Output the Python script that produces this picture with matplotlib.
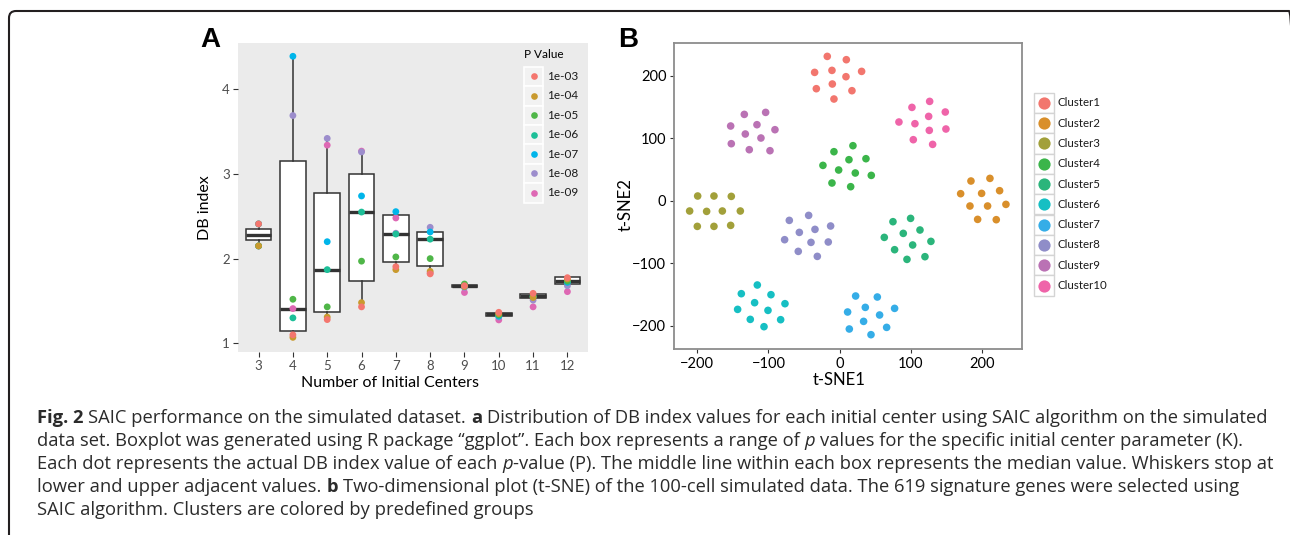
import matplotlib
matplotlib.use("Agg")
import matplotlib.pyplot as plt
from matplotlib.patches import Rectangle, FancyBboxPatch

# ---- panel A data: DB index by number of initial centers ----
centers = [3, 4, 5, 6, 7, 8, 9, 10, 11, 12]
p_labels = ["1e-03", "1e-04", "1e-05", "1e-06", "1e-07", "1e-08", "1e-09"]
p_colors = ["#F4766E", "#C99A2E", "#4FB648", "#1DBF98", "#00B5EA", "#9C8DCC", "#DE68B4"]

db_1e03 = [2.41, 1.10, 1.28, 1.43, 1.905, 1.82, 1.68, 1.366, 1.59, 1.775]
db_1e04 = [2.15, 1.07, 1.31, 1.48, 1.87, 1.85, 1.67, 1.35, 1.54, 1.76]
db_1e05 = [2.15, 1.52, 1.43, 1.97, 2.02, 2.00, 1.70, 1.34, 1.56, 1.74]
db_1e06 = [2.41, 1.30, 1.87, 2.55, 2.29, 2.23, 1.69, 1.33, 1.55, 1.73]
db_1e07 = [2.15, 4.39, 2.20, 2.74, 2.555, 2.315, 1.67, 1.32, 1.55, 1.72]
db_1e08 = [2.41, 3.69, 3.42, 3.26, 2.30, 2.37, 1.66, 1.31, 1.51, 1.68]
db_1e09 = [2.15, 1.41, 3.34, 3.27, 2.48, 1.83, 1.60, 1.276, 1.43, 1.61]
db_series = [db_1e03, db_1e04, db_1e05, db_1e06, db_1e07, db_1e08, db_1e09]

# box statistics
box_q1 = [2.22, 1.146, 1.366, 1.73, 1.96, 1.917, 1.665, 1.325, 1.535, 1.70]
box_med = [2.28, 1.41, 1.866, 2.55, 2.29, 2.23, 1.677, 1.34, 1.555, 1.735]
box_q3 = [2.35, 3.15, 2.77, 3.00, 2.52, 2.31, 1.69, 1.355, 1.58, 1.78]
box_lo = [2.15, 1.07, 1.28, 1.43, 1.87, 1.82, 1.665, 1.325, 1.535, 1.70]
box_hi = [2.41, 4.39, 3.42, 3.26, 2.555, 2.37, 1.69, 1.355, 1.58, 1.78]

# ---- panel B data: t-SNE coordinates per cluster ----
clusters = ["Cluster1", "Cluster2", "Cluster3", "Cluster4", "Cluster5",
            "Cluster6", "Cluster7", "Cluster8", "Cluster9", "Cluster10"]
cluster_colors = ["#F2766E", "#D98F2B", "#A2A03A", "#3BB54A", "#2BB57B",
                  "#16BFC3", "#35ADE7", "#8F8DC8", "#BA72B4", "#EF64A9"]

c1_x = [-17.2, 9.6, -35.0, -10.6, 9.1, 31.1, -32.6, -10.1, 17.5, -7.8]
c1_y = [230.9, 225.6, 205.3, 208.5, 198.4, 206.9, 179.2, 186.7, 176.0, 162.7]
c2_x = [184.9, 211.6, 170.4, 199.9, 225.2, 183.5, 208.3, 234.1, 194.3, 220.5]
c2_y = [31.5, 35.7, 11.2, 11.7, 16.0, -8.5, -8.5, -5.9, -29.9, -30.4]
c3_x = [-199.5, -176.6, -152.2, -210.8, -186.9, -164.8, -139.5, -200.0, -176.6, -153.1]
c3_y = [7.5, 7.5, 6.9, -16.5, -17.1, -16.5, -16.5, -41.1, -41.1, -39.5]
c4_x = [-7.8, 18.9, -23.3, 13.3, 37.2, -1.2, 22.2, 44.7, -10.6, 15.7]
c4_y = [78.4, 88.0, 56.5, 65.6, 67.2, 49.1, 44.3, 40.5, 28.3, 22.4]
c5_x = [75.2, 100.0, 89.7, 113.2, 63.0, 102.9, 128.6, 77.5, 120.2, 94.9]
c5_y = [-33.6, -28.3, -52.3, -46.9, -58.7, -70.9, -65.1, -78.4, -89.6, -93.9]
c6_x = [-115.6, -138.1, -96.4, -119.4, -76.7, -143.3, -100.6, -125.5, -82.8, -106.2]
c6_y = [-134.9, -148.8, -150.4, -163.2, -164.8, -173.9, -175.5, -189.9, -190.4, -201.6]
c7_x = [22.7, 53.2, 36.3, 77.5, 11.4, 56.4, 33.9, 13.8, 66.3, 44.3]
c7_y = [-152.5, -154.1, -170.7, -172.3, -178.1, -182.9, -193.1, -205.3, -202.7, -214.4]
c8_x = [-43.4, -70.6, -12.5, -56.5, -34.5, -77.2, -40.1, -15.8, -58.0, -31.2]
c8_y = [-23.5, -31.5, -40.5, -50.7, -45.9, -62.4, -66.7, -66.1, -81.1, -89.1]
c9_x = [-133.9, -103.9, -153.1, -116.1, -90.8, -132.5, -110.5, -152.2, -126.9, -97.8]
c9_y = [138.1, 141.3, 119.5, 121.6, 113.6, 106.7, 100.3, 91.2, 81.6, 80.0]
c10_x = [126.8, 101.9, 148.8, 125.4, 83.6, 106.1, 149.7, 126.3, 103.8, 131.0]
c10_y = [158.9, 149.3, 141.9, 134.9, 125.9, 123.2, 114.7, 112.5, 97.6, 90.1]
tsne_x = [c1_x, c2_x, c3_x, c4_x, c5_x, c6_x, c7_x, c8_x, c9_x, c10_x]
tsne_y = [c1_y, c2_y, c3_y, c4_y, c5_y, c6_y, c7_y, c8_y, c9_y, c10_y]

# ---- caption (segments: text, style) ----
caption_lines = [
    [("Fig. 2", "b"), (" SAIC performance on the simulated dataset. ", "n"), ("a", "b"),
     (" Distribution of DB index values for each initial center using SAIC algorithm on the simulated", "n")],
    [("data set. Boxplot was generated using R package \u201cggplot\u201d. Each box represents a range of ", "n"),
     ("p", "i"), (" values for the specific initial center parameter (K).", "n")],
    [("Each dot represents the actual DB index value of each ", "n"), ("p", "i"),
     ("-value (P). The middle line within each box represents the median value. Whiskers stop at", "n")],
    [("lower and upper adjacent values. ", "n"), ("b", "b"),
     (" Two-dimensional plot (t-SNE) of the 100-cell simulated data. The 619 signature genes were selected using", "n")],
    [("SAIC algorithm. Clusters are colored by predefined groups", "n")],
]

W, H = 1290, 535
PANEL_FONT = ["Lato", "DejaVu Sans"]
CAP_FONT = ["Open Sans", "DejaVu Sans"]


def fig_rect(x0, y0, x1, y1):
    # pixel box (top-left origin) -> figure fraction rect
    return [x0 / W, 1 - y1 / H, (x1 - x0) / W, (y1 - y0) / H]


def fx(x):
    return x / W


def fy(y):
    return 1 - y / H


fig = plt.figure(figsize=(W / 100, H / 100), dpi=100)
fig.patch.set_facecolor("white")

# frame around the figure (right and bottom sides run off the picture)
frame = FancyBboxPatch((fx(9), fy(H + 30)), (1296 - 9) / W, (H + 30 - 11) / H,
                       boxstyle="round,pad=0,rounding_size=%f" % (7 / W),
                       mutation_aspect=W / H, transform=fig.transFigure,
                       fill=False, ec="#231F20", lw=1.5, clip_on=False)
fig.patches.append(frame)

# ================= panel A =================
axA = fig.add_axes(fig_rect(238, 43, 588, 352))
axA.set_facecolor("#EBEBEB")
for s in axA.spines.values():
    s.set_visible(False)

stats = []
for i in range(len(centers)):
    stats.append(dict(q1=box_q1[i], med=box_med[i], q3=box_q3[i],
                      whislo=box_lo[i], whishi=box_hi[i], fliers=[]))
axA.bxp(stats, positions=centers, widths=0.75, patch_artist=True, showcaps=False,
        showfliers=False,
        boxprops=dict(facecolor="white", edgecolor="#333333", linewidth=1.1),
        medianprops=dict(color="#333333", linewidth=2.4, solid_capstyle="butt"),
        whiskerprops=dict(color="#333333", linewidth=1.1))

for vals, col in reversed(list(zip(db_series, p_colors))):
    axA.scatter(centers, vals, s=24, color=col, edgecolors="none", zorder=5)

axA.set_xlim(2.4, 12.6)
axA.set_ylim(0.897, 4.547)
axA.set_xticks(centers)
axA.set_xticklabels([str(c) for c in centers])
axA.set_yticks([1, 2, 3, 4])
axA.tick_params(length=3.5, width=0.8, color="#333333", labelcolor="#4D4D4D",
                labelsize=9.5, pad=2.5)
for lab in axA.get_xticklabels() + axA.get_yticklabels():
    lab.set_family(PANEL_FONT)
axA.set_xlabel("Number of Initial Centers", family=PANEL_FONT, fontsize=11.5)
axA.set_ylabel("DB index", family=PANEL_FONT, fontsize=11.5)
axA.xaxis.set_label_coords((390 - 238) / 350, (352 - 383) / 309)
axA.xaxis.label.set_va("center")
axA.yaxis.set_label_coords((205 - 238) / 350, (352 - 208) / 309)
axA.yaxis.label.set_va("center")

# legend for p values
fig.text(fx(524), fy(54), "P Value", family=PANEL_FONT, fontsize=8.5, va="center", ha="left")
for i, (lab, col) in enumerate(zip(p_labels, p_colors)):
    top = 66.7 + i * 19.4
    fig.add_artist(Rectangle((fx(524), fy(top + 19.4)), 19.4 / W, 19.4 / H,
                             transform=fig.transFigure, fc="#F2F2F2", ec="white", lw=1.2))
    fig.add_artist(plt.Line2D([fx(534)], [fy(top + 9.7)], transform=fig.transFigure,
                              marker="o", ms=4.8, color=col, mec="none", ls="none"))
    fig.text(fx(547), fy(top + 9.7), lab, family=PANEL_FONT, fontsize=8.5, va="center",
             ha="left", color="#1A1A1A")

fig.text(fx(200), fy(40), "A", family=["Liberation Sans", "DejaVu Sans"], fontsize=20,
         fontweight="bold", va="center", ha="left")

# ================= panel B =================
axB = fig.add_axes(fig_rect(674, 42.7, 1022, 349))
for s in axB.spines.values():
    s.set_color("#8C8C8C")
    s.set_linewidth(1.3)
for xs, ys, col in zip(tsne_x, tsne_y, cluster_colors):
    axB.scatter(xs, ys, s=30, color=col, edgecolors="none")
axB.set_xlim(-232.8, 256.7)
axB.set_ylim(-237.3, 252.8)
axB.set_xticks([-200, -100, 0, 100, 200])
axB.set_yticks([-200, -100, 0, 100, 200])
axB.tick_params(length=3, width=0.8, color="#333333", labelcolor="black",
                labelsize=10.5, pad=2.5)
for lab in axB.get_xticklabels() + axB.get_yticklabels():
    lab.set_family(PANEL_FONT)
axB.set_xlabel("t-SNE1", family=PANEL_FONT, fontsize=12)
axB.set_ylabel("t-SNE2", family=PANEL_FONT, fontsize=12)
axB.xaxis.set_label_coords((839.5 - 674) / 348, (349 - 380) / 306.3)
axB.xaxis.label.set_va("center")
axB.yaxis.set_label_coords((626 - 674) / 348, (349 - 205) / 306.3)
axB.yaxis.label.set_va("center")

for i, (lab, col) in enumerate(zip(clusters, cluster_colors)):
    top = 92.7 + i * 20.3
    fig.add_artist(Rectangle((fx(1034), fy(top + 20.3)), 20 / W, 20.3 / H,
                             transform=fig.transFigure, fc="white", ec="#D4D4D4", lw=1.0))
    fig.add_artist(plt.Line2D([fx(1044)], [fy(top + 10.15)], transform=fig.transFigure,
                              marker="o", ms=8.8, color=col, mec="none", ls="none"))
    fig.text(fx(1057), fy(top + 10.15), lab, family=PANEL_FONT, fontsize=8.3, va="center",
             ha="left", color="#1A1A1A")

fig.text(fx(618), fy(40), "B", family=["Liberation Sans", "DejaVu Sans"], fontsize=20,
         fontweight="bold", va="center", ha="left")

# ================= caption =================
renderer = fig.canvas.get_renderer()


def seg_width(txt, size, style):
    t = fig.text(0, 0, txt, family=CAP_FONT, fontsize=size,
                 fontweight="bold" if style == "b" else "normal",
                 fontstyle="italic" if style == "i" else "normal")
    w = t.get_window_extent(renderer).width
    t.remove()
    return w


def space_width(size):
    return seg_width("x x", size, "n") - seg_width("xx", size, "n")


def line_width(segs, size):
    total = 0
    sp = space_width(size)
    for txt, st in segs:
        core = txt.strip()
        total += (len(txt) - len(txt.lstrip())) * sp
        total += seg_width(core, size, st) if core else 0
        total += (len(txt) - len(txt.rstrip())) * sp
    return total


cap_size = 10.0
cap_size = cap_size * (1273 - 37) / line_width(caption_lines[0], cap_size)

baselines = [423, 446, 469, 492, 515]
sp = space_width(cap_size)
for segs, base in zip(caption_lines, baselines):
    x = 37.0
    for txt, st in segs:
        x += (len(txt) - len(txt.lstrip())) * sp
        core = txt.strip()
        if core:
            fig.text(fx(x), fy(base), core, family=CAP_FONT, fontsize=cap_size,
                     fontweight="bold" if st == "b" else "normal",
                     fontstyle="italic" if st == "i" else "normal",
                     va="baseline", ha="left", color="#2B2B2B")
            x += seg_width(core, cap_size, st)
        x += (len(txt) - len(txt.rstrip())) * sp

fig.savefig("out.png", dpi=100)
